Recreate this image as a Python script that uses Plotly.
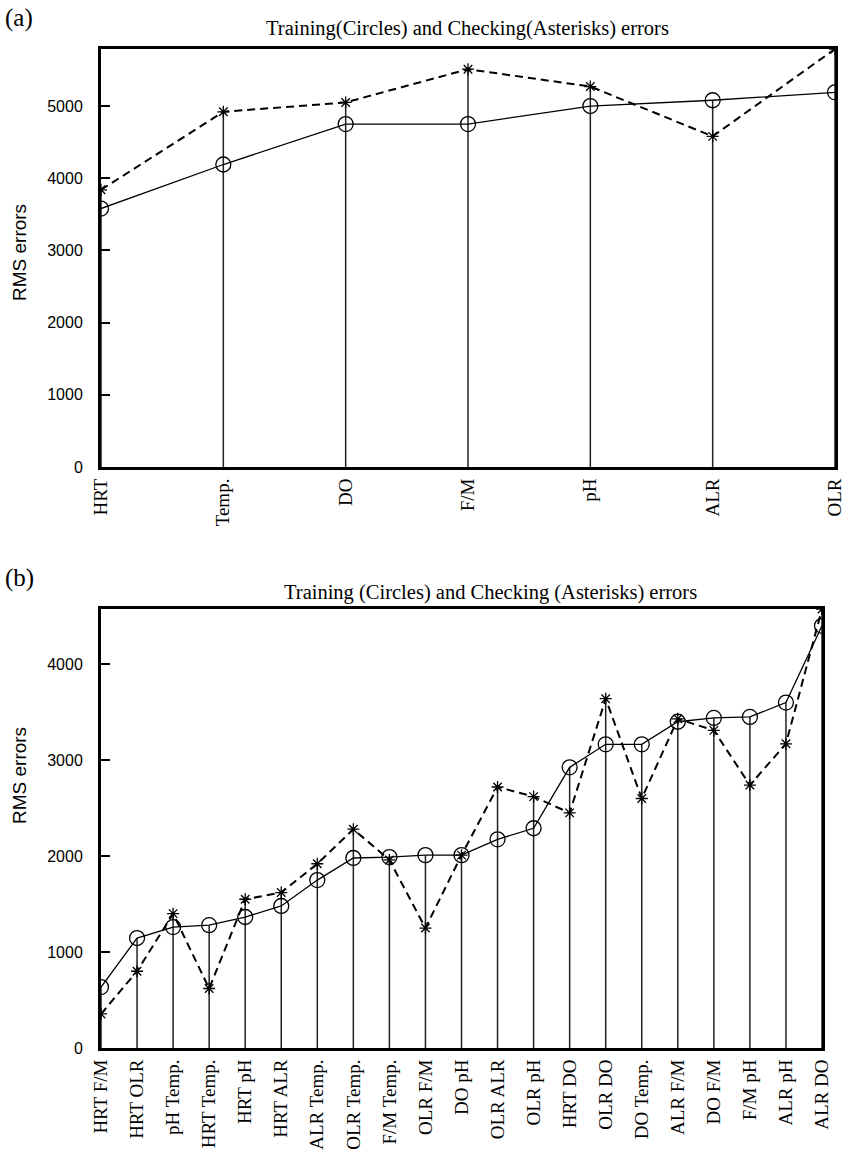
import plotly.graph_objects as go

# ---- data: panel (a) ----
cats_a = ["HRT", "Temp.", "DO", "F/M", "pH", "ALR", "OLR"]
train_a = [3580, 4190, 4750, 4750, 5000, 5080, 5190]
check_a = [3840, 4920, 5050, 5510, 5270, 4580, 5790]
yticks_a = [0, 1000, 2000, 3000, 4000, 5000]

# ---- data: panel (b) ----
cats_b = ["HRT F/M", "HRT OLR", "pH Temp.", "HRT Temp.", "HRT pH", "HRT ALR",
          "ALR Temp.", "OLR Temp.", "F/M Temp.", "OLR F/M", "DO pH", "OLR ALR",
          "OLR pH", "HRT DO", "OLR DO", "DO Temp.", "ALR F/M", "DO F/M",
          "F/M pH", "ALR pH", "ALR DO"]
train_b = [635, 1146, 1260, 1280, 1365, 1480, 1750, 1980, 1990, 2010, 2010,
           2175, 2290, 2925, 3165, 3165, 3400, 3440, 3450, 3600, 4400]
check_b = [355, 800, 1400, 620, 1550, 1620, 1920, 2280, 1960, 1250, 2010,
           2720, 2620, 2450, 3640, 2600, 3430, 3310, 2740, 3170, 4575]
yticks_b = [0, 1000, 2000, 3000, 4000]

TITLE_A = "Training(Circles) and Checking(Asterisks) errors"
TITLE_B = "Training (Circles) and Checking (Asterisks) errors"

fig = go.Figure()


def add_panel(cats, train, check, xa, ya):
    idx = list(range(len(cats)))
    sx, sy = [], []
    for i, t, c in zip(idx, train, check):
        sx += [i, i, None]
        sy += [0, max(t, c), None]
    fig.add_trace(go.Scatter(x=sx, y=sy, mode="lines", xaxis=xa, yaxis=ya,
                             line=dict(color="#222222", width=1.5),
                             showlegend=False, hoverinfo="skip"))
    fig.add_trace(go.Scatter(x=idx, y=check, mode="lines+markers", xaxis=xa, yaxis=ya,
                             line=dict(color="black", width=2, dash="8px,5px"),
                             marker=dict(symbol="asterisk-open", size=10,
                                         line=dict(color="black", width=1.3)),
                             showlegend=False))
    fig.add_trace(go.Scatter(x=idx, y=train, mode="lines+markers", xaxis=xa, yaxis=ya,
                             line=dict(color="black", width=1.3),
                             marker=dict(symbol="circle-open", size=15, color="black",
                                         line=dict(color="black", width=1.3)),
                             showlegend=False))


add_panel(cats_a, train_a, check_a, "x", "y")
add_panel(cats_b, train_b, check_b, "x2", "y2")

W, H = 854, 1151
ax_common = dict(showgrid=False, zeroline=False, showline=True, linecolor="black",
                 linewidth=3, mirror=True, automargin=False)
xfont = dict(family="Liberation Serif, Times New Roman, serif", size=19, color="black")
yfont = dict(family="Liberation Sans, Arial", size=16, color="black")
ytick = dict(ticks="inside", ticklen=9, tickwidth=1.5, tickcolor="black",
             tickfont=yfont, ticklabelstandoff=12)

fig.update_layout(
    width=W, height=H, margin=dict(l=0, r=0, t=0, b=0, autoexpand=False),
    plot_bgcolor="white", paper_bgcolor="white", showlegend=False,
    xaxis=dict(domain=[101 / W, 835 / W], anchor="y", range=[0, len(cats_a) - 1],
               tickmode="array", tickvals=list(range(len(cats_a))), ticktext=cats_a,
               tickangle=-90, ticks="", tickfont=xfont, ticklabelstandoff=1, **ax_common),
    yaxis=dict(domain=[1 - 467 / H, 1 - 49 / H], anchor="x", range=[0, 5790],
               tickmode="array", tickvals=yticks_a, **ytick, **ax_common),
    xaxis2=dict(domain=[101 / W, 822 / W], anchor="y2", range=[0, len(cats_b) - 1],
                tickmode="array", tickvals=list(range(len(cats_b))), ticktext=cats_b,
                tickangle=-90, ticks="", tickfont=xfont, ticklabelstandoff=1, **ax_common),
    yaxis2=dict(domain=[1 - 1048 / H, 1 - 609 / H], anchor="x2", range=[0, 4575],
                tickmode="array", tickvals=yticks_b, **ytick, **ax_common),
)

tfont = dict(family="Liberation Serif, Times New Roman, serif", size=20.5, color="black")
lfont = dict(family="Liberation Serif, Times New Roman, serif", size=25, color="black")
fig.add_annotation(text="(a)", x=3 / W, y=1 - 2 / H, xref="paper", yref="paper",
                   xanchor="left", yanchor="top", showarrow=False, font=lfont)
fig.add_annotation(text="(b)", x=3 / W, y=1 - 562 / H, xref="paper", yref="paper",
                   xanchor="left", yanchor="top", showarrow=False, font=lfont)
fig.add_annotation(text=TITLE_A, x=467 / W, y=1 - 29 / H, xref="paper", yref="paper",
                   xanchor="center", yanchor="middle", showarrow=False, font=tfont)
fig.add_annotation(text=TITLE_B, x=490 / W, y=1 - 592 / H, xref="paper", yref="paper",
                   xanchor="center", yanchor="middle", showarrow=False, font=tfont)
for yc in (253, 776):
    fig.add_annotation(text="RMS errors", x=19 / W, y=1 - yc / H, xref="paper", yref="paper",
                       xanchor="center", yanchor="middle", showarrow=False, textangle=-90,
                       font=dict(family="Liberation Sans, Arial", size=19, color="black"))

fig.write_html(
    "out.html",
    config={"displayModeBar": False},
    post_script="document.body.style.margin='0';document.body.style.overflow='hidden';",
)
